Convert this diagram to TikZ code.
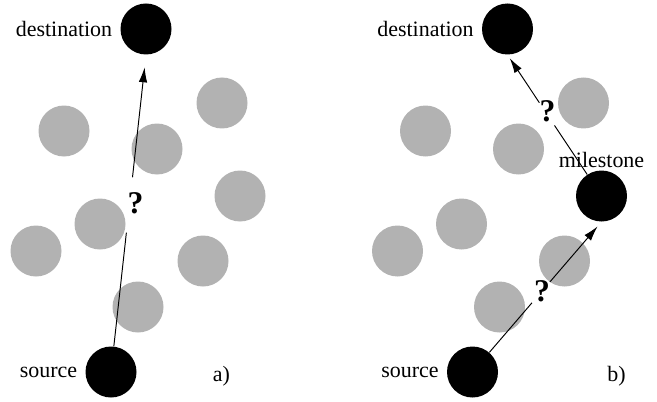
\documentclass[tikz,border=0pt]{standalone}
\usepackage{fontspec}
\setmainfont{Liberation Serif}
\usetikzlibrary{arrows.meta}
\begin{document}
\begin{tikzpicture}[font=\fontsize{12.5}{15}\selectfont,
		hub/.style={circle, fill=black, minimum size=1.02cm, inner sep=0pt},
		obstacle/.style={fill=black!30},
		qmark/.style={font=\fontsize{18}{20}\selectfont\bfseries, inner sep=1pt},
		link/.style={line width=0.55pt},
		tip/.style={-{Latex[length=0.3cm, width=0.17cm]}},
		label distance=1pt]
	\useasboundingbox (0,0) rectangle (13.14,8.02);
	
	% Obstaculos grises, iguales en los dos casos
	\foreach \p/\dx in {a/0, b/7.23} {
		\begin{scope}[xshift=\dx cm]
			\foreach \x/\y in {1.28/5.40, 4.44/5.96, 3.14/5.04, 2.00/3.54, 0.72/3.00, 4.06/2.80, 2.76/1.88}
				\fill[obstacle] (\x,\y) circle (0.51);
			\node[hub, label=left:source] (src-\p) at (2.22,0.58) {};
			\node[hub, label=left:destination] (dst-\p) at (2.92,7.44) {};
		\end{scope}
	}
	\fill[obstacle] (4.80,4.10) circle (0.51);
	\node[hub, label={[yshift=-3pt]above:milestone}] (ms) at (12.03,4.10) {};
	
	\node (tag-a) at (4.43,0.50) {a)};
	\node (tag-b) at (12.33,0.50) {b)};
	
	\path (src-a) -- coordinate[pos=.39] (a-lo) node[qmark, pos=.49, xshift=.12cm] (q-a) {?} coordinate[pos=.58] (a-hi) (dst-a.south);
	\draw[link] (src-a) -- (a-lo);
	\draw[link, tip, shorten >=0.25cm] (a-hi) -- (dst-a.south);
	
	\path (src-b) -- coordinate[pos=.38] (b-lo) node[qmark, pos=.47] (q-b) {?} coordinate[pos=.54] (b-hi) (ms.south);
	\draw[link] (src-b) -- (b-lo);
	\draw[link, tip, shorten >=0.12cm] (b-hi) -- (ms.south);
	
	\path (ms) -- coordinate[pos=.41] (c-lo) node[qmark, pos=.53, xshift=.05cm] (q-c) {?} coordinate[pos=.6] (c-hi) (dst-b.south);
	\draw[link] (ms) -- (c-lo);
	\draw[link, tip, shorten >=0.08cm] (c-hi) -- (dst-b.south);
\end{tikzpicture}
\end{document}
